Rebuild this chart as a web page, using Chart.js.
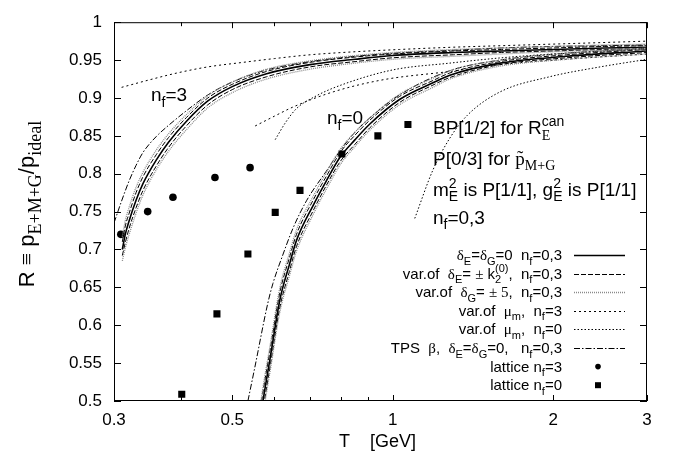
<!DOCTYPE html>
<html>
<head>
<meta charset="utf-8">
<script src="https://cdn.jsdelivr.net/npm/chart.js@4.4.0/dist/chart.umd.min.js"></script>
<style>
  html, body { margin: 0; padding: 0; background: #fff; }
  canvas { display: block; }
</style>
</head>
<body>
<canvas id="chart" width="678" height="464"></canvas>
<script>
// axis ticks
const xTicks = [0.3, 0.4, 0.5, 0.6, 0.7, 0.8, 0.9, 1, 2, 3];
const xLabels = [0.3, 0.5, 1, 2, 3];

// n_f = 3 band (T in GeV, R)
const tNf3 = [0.311, 0.315, 0.32, 0.33, 0.34, 0.36, 0.38, 0.41, 0.45, 0.5, 0.58, 0.7, 0.85, 1.0, 1.3, 1.6, 2.0, 2.5, 3.0];
const nf3Central   = [0.700, 0.720, 0.737, 0.765, 0.787, 0.818, 0.842, 0.869, 0.896, 0.915, 0.932, 0.944, 0.951, 0.956, 0.960, 0.962, 0.964, 0.966, 0.967];
const nf3DeltaEUp  = [0.710, 0.731, 0.747, 0.775, 0.796, 0.825, 0.848, 0.874, 0.900, 0.918, 0.935, 0.947, 0.954, 0.958, 0.962, 0.964, 0.966, 0.968, 0.969];
const nf3DeltaEDn  = [0.692, 0.709, 0.727, 0.755, 0.778, 0.810, 0.835, 0.863, 0.891, 0.911, 0.928, 0.941, 0.948, 0.953, 0.957, 0.960, 0.962, 0.964, 0.965];
const nf3DeltaGUp  = [0.717, 0.738, 0.755, 0.782, 0.802, 0.831, 0.853, 0.878, 0.903, 0.921, 0.938, 0.949, 0.956, 0.960, 0.964, 0.966, 0.968, 0.970, 0.971];
const nf3DeltaGDn  = [0.685, 0.702, 0.719, 0.748, 0.772, 0.805, 0.830, 0.858, 0.887, 0.907, 0.925, 0.938, 0.946, 0.951, 0.955, 0.958, 0.961, 0.963, 0.964];
const tTps3 = [0.3, 0.31, 0.32, 0.33, 0.34, 0.36, 0.38, 0.41, 0.45, 0.5, 0.58, 0.7, 0.85, 1.0, 1.3, 1.6, 2.0, 2.5, 3.0];
const nf3Tps = [0.735, 0.764, 0.790, 0.811, 0.828, 0.849, 0.864, 0.883, 0.904, 0.921, 0.937, 0.948, 0.955, 0.959, 0.963, 0.966, 0.968, 0.969, 0.970];

// n_f = 0 band
const tNf0 = [0.56, 0.571, 0.59, 0.614, 0.64, 0.66, 0.709, 0.75, 0.797, 0.85, 0.907, 1.03, 1.19, 1.28, 1.59, 2.12, 3.0];
const nf0Central   = [0.460, 0.500, 0.560, 0.633, 0.680, 0.712, 0.758, 0.790, 0.822, 0.845, 0.866, 0.898, 0.920, 0.930, 0.946, 0.955, 0.962];
const nf0DeltaEUp  = [0.472, 0.512, 0.571, 0.643, 0.689, 0.720, 0.765, 0.796, 0.828, 0.851, 0.871, 0.902, 0.923, 0.933, 0.948, 0.957, 0.964];
const nf0DeltaEDn  = [0.448, 0.488, 0.549, 0.623, 0.671, 0.704, 0.751, 0.784, 0.816, 0.839, 0.861, 0.894, 0.917, 0.927, 0.944, 0.953, 0.960];
const nf0DeltaGUp  = [0.478, 0.518, 0.577, 0.649, 0.695, 0.726, 0.770, 0.801, 0.832, 0.855, 0.874, 0.905, 0.926, 0.936, 0.950, 0.959, 0.966];
const nf0DeltaGDn  = [0.442, 0.482, 0.543, 0.617, 0.665, 0.698, 0.746, 0.779, 0.812, 0.836, 0.858, 0.891, 0.914, 0.925, 0.942, 0.951, 0.958];
const tTps0 = [0.535, 0.55, 0.583, 0.596, 0.62, 0.65, 0.69, 0.75, 0.8, 0.85, 0.907, 1.03, 1.28, 1.59, 2.12, 3.0];
const nf0Tps = [0.500, 0.541, 0.629, 0.655, 0.690, 0.728, 0.765, 0.803, 0.832, 0.855, 0.874, 0.904, 0.936, 0.950, 0.959, 0.965];

// mu_m variations
const tMu3Up = [0.31, 0.35, 0.394, 0.45, 0.524, 0.6, 0.7, 0.85, 1.03, 1.3, 1.6, 2.2, 3.0];
const nf3MuUp = [0.914, 0.924, 0.933, 0.941, 0.947, 0.952, 0.957, 0.961, 0.964, 0.967, 0.969, 0.972, 0.975];
const tMu3Dn = [0.552, 0.6, 0.65, 0.773, 0.959, 1.28, 1.59, 2.2, 3.0];
const nf3MuDn = [0.863, 0.876, 0.888, 0.908, 0.924, 0.935, 0.944, 0.952, 0.958];
const tMu0Up = [0.602, 0.63, 0.66, 0.72, 0.8, 1.0, 1.28, 1.6, 2.2, 3.0];
const nf0MuUp = [0.845, 0.868, 0.886, 0.903, 0.917, 0.937, 0.946, 0.953, 0.960, 0.965];
const tMu0Dn = [1.10, 1.19, 1.28, 1.38, 1.59, 1.97, 2.45, 3.0];
const nf0MuDn = [0.741, 0.805, 0.847, 0.877, 0.908, 0.928, 0.941, 0.951];

// lattice data
const tLat3 = [0.309, 0.347, 0.387, 0.464, 0.540];
const rLat3 = [0.720, 0.750, 0.769, 0.795, 0.808];
const tLat0 = [0.402, 0.468, 0.535, 0.602, 0.670, 0.803, 0.938, 1.068];
const rLat0 = [0.509, 0.615, 0.694, 0.749, 0.778, 0.826, 0.850, 0.865];

const SANS = '"Liberation Sans", Arial, sans-serif';
const SERIF = '"Liberation Serif", "DejaVu Serif", serif';

const styles = {
  solid: { borderColor: '#000', borderWidth: 1.6 },
  dashE: { borderColor: '#000', borderWidth: 1, borderDash: [5, 2] },
  dotG:  { borderColor: '#8a8a8a', borderWidth: 1.3, borderDash: [1, 1] },
  mu3:   { borderColor: '#000', borderWidth: 1, borderDash: [2, 3] },
  mu0:   { borderColor: '#000', borderWidth: 1, borderDash: [1.5, 2] },
  tps:   { borderColor: '#000', borderWidth: 1, borderDash: [6, 2, 1.5, 2] }
};

function curve(ts, rs, style) {
  return Object.assign({
    data: ts.map((t, i) => ({ x: t, y: rs[i] })),
    showLine: true, pointRadius: 0, fill: false,
    cubicInterpolationMode: 'monotone'
  }, style);
}
function points(ts, rs, shape, r) {
  return {
    data: ts.map((t, i) => ({ x: t, y: rs[i] })),
    showLine: false, pointStyle: shape, pointRadius: r,
    pointBackgroundColor: '#000', pointBorderColor: '#000', pointBorderWidth: 0
  };
}

// tiny rich-text: _{sub} ^{sup}, `serif`
function parse(s) {
  const out = [];
  let i = 0, serif = false, buf = '';
  const push = () => { if (buf) out.push({ t: buf, mode: 'n', serif }); buf = ''; };
  while (i < s.length) {
    const c = s[i];
    if ((c === '_' || c === '^') && s[i + 1] === '{') {
      push();
      const j = s.indexOf('}', i);
      let inner = s.slice(i + 2, j);
      const sf = inner.indexOf('`') >= 0;
      inner = inner.replace(/`/g, '');
      out.push({ t: inner, mode: c === '_' ? 'sub' : 'sup', serif: sf });
      i = j + 1;
      continue;
    }
    if (c === '`') { push(); serif = !serif; i++; continue; }
    buf += c; i++;
  }
  push();
  return out;
}

function drawRich(ctx, str, x, y, size, align, subScale) {
  const k = subScale || 0.72;
  const parts = parse(str);
  const items = [];
  let w = 0;
  for (let i = 0; i < parts.length; i++) {
    const p = parts[i];
    const fs = p.mode === 'n' ? size : Math.round(size * k);
    const fam = p.serif ? SERIF : SANS;
    ctx.font = fs + 'px ' + fam;
    const pw = ctx.measureText(p.t).width;
    items.push({ t: p.t, mode: p.mode, fs, fam, dx: w });
    const nx = parts[i + 1];
    if (p.mode === 'sub' && nx && nx.mode === 'sup') {
      const nfam = nx.serif ? SERIF : SANS;
      ctx.font = fs + 'px ' + nfam;
      const nw = ctx.measureText(nx.t).width;
      items.push({ t: nx.t, mode: 'sup', fs, fam: nfam, dx: w });
      w += Math.max(pw, nw);
      i++;
      continue;
    }
    w += pw;
  }
  const x0 = align === 'right' ? x - w : align === 'center' ? x - w / 2 : x;
  ctx.textAlign = 'left';
  ctx.textBaseline = 'alphabetic';
  ctx.fillStyle = '#000';
  for (const it of items) {
    ctx.font = it.fs + 'px ' + it.fam;
    const dy = it.mode === 'sub' ? size * 0.3 : it.mode === 'sup' ? -size * 0.42 : 0;
    ctx.fillText(it.t, x0 + it.dx, y + dy);
  }
  return w;
}

const legendItems = [
  { text: '`δ`_{E}=`δ`_{G}=0  n_{f}=0,3', style: styles.solid },
  { text: 'var.of  `δ`_{E}= `±` k_{2}^{(0)},  n_{f}=0,3', style: styles.dashE },
  { text: 'var.of  `δ`_{G}= `± 5`,  n_{f}=0,3', style: styles.dotG },
  { text: 'var.of  `μ`_{m},  n_{f}=3', style: styles.mu3 },
  { text: 'var.of  `μ`_{m},  n_{f}=0', style: styles.mu0 },
  { text: 'TPS  `β`,  `δ`_{E}=`δ`_{G}=0,   n_{f}=0,3', style: styles.tps },
  { text: 'lattice n_{f}=3', marker: 'circle' },
  { text: 'lattice n_{f}=0', marker: 'rect' }
];

const notes = [
  { text: 'n_{f}=3', t: 0.352, r: 0.896 },
  { text: 'n_{f}=0', t: 0.753, r: 0.865 },
  { text: 'BP[1/2] for R_{`E`}^{can}', t: 1.19, r: 0.852 },
  { text: 'P[0/3] for `p\u0303`_{`M+G`}', t: 1.19, r: 0.812 },
  { text: 'm_{E}^{2} is P[1/1], g_{E}^{2} is P[1/1]', t: 1.19, r: 0.771 },
  { text: 'n_{f}=0,3', t: 1.19, r: 0.734 }
];

const decor = {
  id: 'decor',
  afterDatasetsDraw(chart) {
    const ctx = chart.ctx;
    const a = chart.chartArea;
    const xs = chart.scales.x, ys = chart.scales.y;
    ctx.save();
    // frame
    ctx.strokeStyle = '#000';
    ctx.lineWidth = 1;
    ctx.setLineDash([]);
    ctx.strokeRect(a.left + 0.5, a.top + 0.5, a.right - a.left - 1, a.bottom - a.top - 1);
    // inward ticks
    ctx.beginPath();
    xTicks.forEach(v => {
      const px = Math.round(xs.getPixelForValue(v)) + 0.5;
      const len = xLabels.includes(v) ? 6 : 4;
      ctx.moveTo(px, a.bottom); ctx.lineTo(px, a.bottom - len);
      ctx.moveTo(px, a.top); ctx.lineTo(px, a.top + len);
    });
    ys.ticks.forEach(t => {
      const py = Math.round(ys.getPixelForValue(t.value)) + 0.5;
      ctx.moveTo(a.left, py); ctx.lineTo(a.left + 7, py);
      ctx.moveTo(a.right, py); ctx.lineTo(a.right - 7, py);
    });
    ctx.stroke();

    // annotations
    notes.forEach(n => {
      drawRich(ctx, n.text, xs.getPixelForValue(n.t), ys.getPixelForValue(n.r), 19, 'left', 0.75);
    });

    // legend
    const textRight = 562, lineL = 574, lineR = 625;
    legendItems.forEach((it, i) => {
      const cy = 255 + i * 18.6;
      drawRich(ctx, it.text, textRight, cy + 5, 15, 'right', 0.75);
      if (it.style) {
        ctx.beginPath();
        ctx.strokeStyle = it.style.borderColor;
        ctx.lineWidth = it.style.borderWidth;
        ctx.setLineDash(it.style.borderDash || []);
        ctx.moveTo(lineL, Math.round(cy) + 0.5);
        ctx.lineTo(lineR, Math.round(cy) + 0.5);
        ctx.stroke();
        ctx.setLineDash([]);
      } else if (it.marker === 'circle') {
        ctx.beginPath();
        ctx.fillStyle = '#000';
        ctx.arc(598, cy, 2.8, 0, Math.PI * 2);
        ctx.fill();
      } else {
        ctx.fillStyle = '#000';
        ctx.fillRect(595, cy - 3, 6, 6);
      }
    });

    // axis titles
    ctx.fillStyle = '#000';
    ctx.font = '18px ' + SANS;
    ctx.textAlign = 'left';
    ctx.textBaseline = 'alphabetic';
    ctx.fillText('T    [GeV]', 339, 447);
    ctx.translate(27, 204);
    ctx.rotate(-Math.PI / 2);
    drawRich(ctx, 'R `≡` p_{`E+M+G`}/p_{`ideal`}', 0, 7, 22, 'center', 0.8);
    ctx.restore();
  }
};

new Chart(document.getElementById('chart').getContext('2d'), {
  type: 'line',
  data: {
    datasets: [
      curve(tNf3, nf3DeltaGUp, styles.dotG),
      curve(tNf3, nf3DeltaGDn, styles.dotG),
      curve(tNf0, nf0DeltaGUp, styles.dotG),
      curve(tNf0, nf0DeltaGDn, styles.dotG),
      curve(tNf3, nf3DeltaEUp, styles.dashE),
      curve(tNf3, nf3DeltaEDn, styles.dashE),
      curve(tNf0, nf0DeltaEUp, styles.dashE),
      curve(tNf0, nf0DeltaEDn, styles.dashE),
      curve(tNf3, nf3Central, styles.solid),
      curve(tNf0, nf0Central, styles.solid),
      curve(tMu3Up, nf3MuUp, styles.mu3),
      curve(tMu3Dn, nf3MuDn, styles.mu3),
      curve(tMu0Up, nf0MuUp, styles.mu0),
      curve(tMu0Dn, nf0MuDn, styles.mu0),
      curve(tTps3, nf3Tps, styles.tps),
      curve(tTps0, nf0Tps, styles.tps),
      points(tLat3, rLat3, 'circle', 3.8),
      points(tLat0, rLat0, 'rect', 5)
    ]
  },
  options: {
    responsive: false,
    animation: false,
    devicePixelRatio: 1,
    layout: { padding: { top: 10, right: 31, left: 0, bottom: 0 } },
    plugins: { legend: { display: false }, tooltip: { enabled: false } },
    scales: {
      x: {
        type: 'logarithmic',
        min: 0.3, max: 3,
        afterBuildTicks: s => { s.ticks = xTicks.map(v => ({ value: v })); },
        afterFit: s => { s.height = 63; },
        grid: { display: false, drawTicks: false },
        border: { display: false },
        ticks: {
          autoSkip: false, maxRotation: 0, padding: 9,
          color: '#000', font: { family: SANS, size: 17 },
          callback: v => xLabels.includes(v) ? String(v) : ''
        }
      },
      y: {
        min: 0.5, max: 1,
        afterFit: s => { s.width = 114; },
        grid: { display: false, drawTicks: false },
        border: { display: false },
        ticks: {
          stepSize: 0.05, padding: 12,
          color: '#000', font: { family: SANS, size: 17 },
          callback: v => String(Number(v.toFixed(2)))
        }
      }
    }
  },
  plugins: [decor]
});
</script>
</body>
</html>
